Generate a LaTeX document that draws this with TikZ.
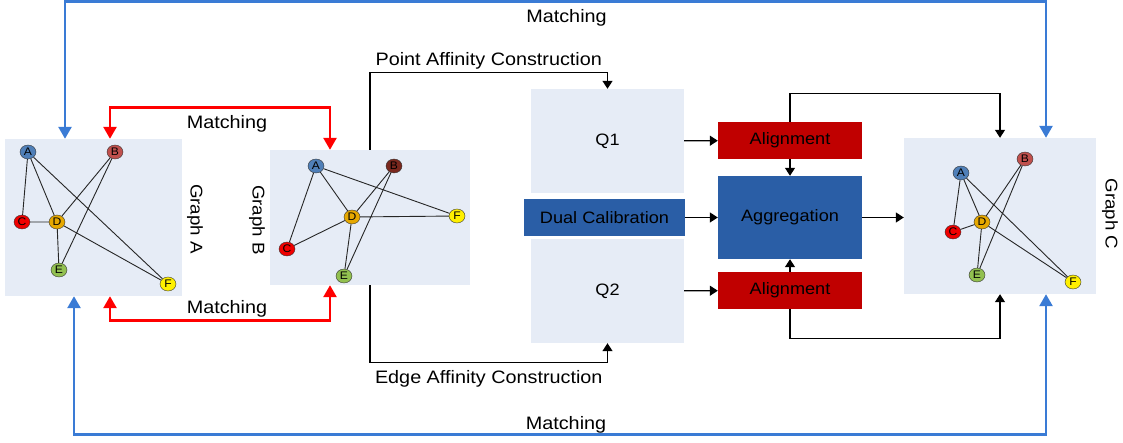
\documentclass[tikz,border=0pt]{standalone}
\usepackage{fontspec}
\setmainfont{Liberation Sans}[FakeStretch=1.1]
\usepackage{tikz}
\definecolor{panelblue}{RGB}{230,236,246}
\definecolor{boxblue}{RGB}{42,94,166}
\definecolor{alignred}{RGB}{192,0,0}
\definecolor{matchblue}{RGB}{58,123,213}
\definecolor{matchred}{RGB}{255,0,0}
\definecolor{vA}{RGB}{79,127,184}
\definecolor{vB}{RGB}{192,80,77}
\definecolor{vBdark}{RGB}{122,40,30}
\definecolor{vC}{RGB}{240,0,0}
\definecolor{vD}{RGB}{230,168,0}
\definecolor{vE}{RGB}{146,192,80}
\definecolor{vF}{RGB}{255,240,0}
\usetikzlibrary{arrows.meta,positioning,shapes.geometric,calc}

\begin{document}
\begin{tikzpicture}[x=1pt, y=-1pt,
  panel/.style={fill=panelblue, inner sep=0pt},
  vtx/.style={draw=black!80, ellipse, minimum width=16pt, minimum height=14pt, inner sep=0pt, font=\fontsize{11}{11}\selectfont},
  gedge/.style={black!85, line width=0.9pt},
  glabel/.style={rotate=-90, font=\fontsize{17}{17}\selectfont},
  box/.style={inner sep=0pt, font=\fontsize{16.5}{17}\selectfont},
  lbl/.style={font=\fontsize{18}{18}\selectfont},
  flow/.style={-{Triangle[width=10pt,length=8pt]}, line width=1.3pt},
  redmatch/.style={{Triangle[width=13pt,length=12pt]}-{Triangle[width=13pt,length=12pt]}, matchred, line width=2.6pt},
  bluematch/.style={{Triangle[width=13pt,length=12pt]}-{Triangle[width=13pt,length=12pt]}, matchblue, line width=2.6pt}
]
  \useasboundingbox (0,0) rectangle (1123,443);

  % graph panels
  \node[panel, minimum width=177pt, minimum height=157pt] (gA) at (93.5,217.5) {};
  \node[panel, minimum width=200pt, minimum height=135pt] (gB) at (370,217.5) {};
  \node[panel, minimum width=192pt, minimum height=156pt] (gC) at (1000,216) {};
  \node[glabel] at (195,219) {Graph A};
  \node[glabel] at (257,220) {Graph B};
  \node[glabel] at (1110,214) {Graph C};

  % graph A
  \node[vtx, fill=vA] (aA) at (28,152) {A};
  \node[vtx, fill=vB] (aB) at (115,152) {B};
  \node[vtx, fill=vC] (aC) at (22,222) {C};
  \node[vtx, fill=vD] (aD) at (57,222) {D};
  \node[vtx, fill=vE] (aE) at (59,270) {E};
  \node[vtx, fill=vF] (aF) at (168,284) {F};
  \draw[gedge] (aA) -- (aC) (aA) -- (aD) (aA) -- (aF) (aB) -- (aD)
    (aB) -- (aE) (aC) -- (aD) (aD) -- (aE) (aD) -- (aF);

  % graph B
  \node[vtx, fill=vA] (bA) at (316,166) {A};
  \node[vtx, fill=vBdark] (bB) at (394,166) {B};
  \node[vtx, fill=vC] (bC) at (287,249) {C};
  \node[vtx, fill=vD] (bD) at (352,217) {D};
  \node[vtx, fill=vE] (bE) at (344,276) {E};
  \node[vtx, fill=vF] (bF) at (457,216) {F};
  \draw[gedge] (bA) -- (bC) (bA) -- (bD) (bA) -- (bF) (bB) -- (bD)
    (bB) -- (bE) (bC) -- (bD) (bD) -- (bE) (bD) -- (bF);

  % graph C
  \node[vtx, fill=vA] (cA) at (961,173) {A};
  \node[vtx, fill=vB] (cB) at (1025,159) {B};
  \node[vtx, fill=vC] (cC) at (953,232) {C};
  \node[vtx, fill=vD] (cD) at (982,222) {D};
  \node[vtx, fill=vE] (cE) at (977,275) {E};
  \node[vtx, fill=vF] (cF) at (1073,282) {F};
  \draw[gedge] (cA) -- (cC) (cA) -- (cD) (cA) -- (cF) (cB) -- (cD)
    (cB) -- (cE) (cC) -- (cD) (cD) -- (cE) (cD) -- (cF);

  % affinity and aggregation blocks
  \node[box, fill=panelblue, minimum width=153pt, minimum height=104pt] (q1) at (607.5,141) {Q1};
  \node[box, fill=panelblue, minimum width=153pt, minimum height=104pt] (q2) at (607.5,291) {Q2};
  \node[box, fill=boxblue, minimum width=161pt, minimum height=37pt] (dual) at (604.5,217.5) {Dual Calibration};
  \node[box, fill=alignred, minimum width=144pt, minimum height=37pt] (al1) at (790,140.5) {Alignment};
  \node[box, fill=boxblue, minimum width=144pt, minimum height=83pt] (agg) at (790,217.5) {Aggregation};
  \node[box, fill=alignred, minimum width=144pt, minimum height=37pt] (al2) at (790,290.5) {Alignment};

  \draw[flow] (gB.north) -- ++(0,-77) -| node[lbl, pos=0.25, above] {Point Affinity Construction} (q1.north);
  \draw[flow] (gB.south) -- ++(0,77) -| node[lbl, pos=0.25, below, yshift=-4pt] {Edge Affinity Construction} (q2.south);
  \draw[flow] (q1) -- (al1);
  \draw[flow] (q2) -- (al2);
  \draw[flow] (dual) -- (agg);
  \draw[flow] (al1) -- (agg);
  \draw[flow] (al2) -- (agg);
  \draw[flow] (agg.east) -- (agg.east -| gC.west);
  \draw[flow] (al1.north) -- ++(0,-28) -| (gC.north);
  \draw[flow] (al2.south) -- ++(0,29) -| (gC.south);

  % matching links
  \draw[redmatch] ([xshift=16.5pt]gA.north) -- ++(0,-31) -| node[lbl, pos=0.25, below, xshift=7pt, yshift=-3pt, black] {Matching} ([xshift=-40pt]gB.north);
  \draw[redmatch] ([xshift=16.5pt]gA.south) -- ++(0,24) -| node[lbl, pos=0.25, above, xshift=7pt, yshift=-2pt, black] {Matching} ([xshift=-40pt]gB.south);
  \draw[bluematch] ([xshift=-28.5pt]gA.north) -- ++(0,-137) -| node[lbl, pos=0.25, below, xshift=11pt, yshift=-3pt, black] {Matching} ([xshift=46pt]gC.north);
  \draw[bluematch] ([xshift=-19.5pt]gA.south) -- ++(0,138) -| node[lbl, pos=0.25, above, xshift=6pt, yshift=-4pt, black] {Matching} ([xshift=46pt]gC.south);
\end{tikzpicture}
\end{document}
